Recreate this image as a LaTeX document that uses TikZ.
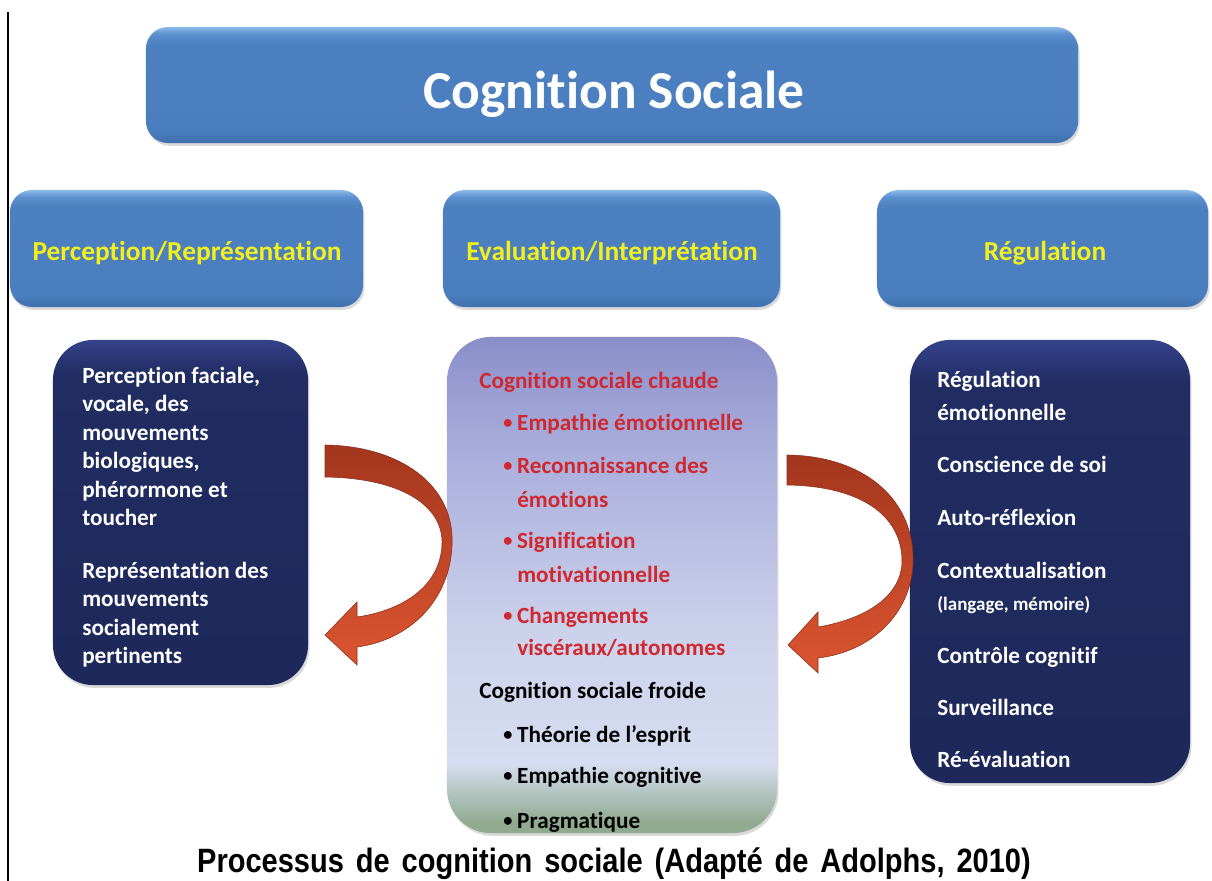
\documentclass[tikz,border=0pt]{standalone}
\usepackage{fontspec}
\setmainfont[Ligatures=NoCommon]{Carlito}
\newfontfamily\capfont[FakeStretch=0.86]{Liberation Sans}
\usepackage{tikz}
\usetikzlibrary{shadows}

\definecolor{headyellow}{HTML}{F2EF1D}
\definecolor{hotred}{HTML}{D0282E}
\definecolor{arrowdark}{HTML}{A3361E}
\definecolor{arrowlight}{HTML}{DC5530}

\pgfdeclareverticalshading{blueshade}{100bp}{color(0bp)=(rgb,255:red,63;green,111;blue,174); color(25bp)=(rgb,255:red,63;green,111;blue,174); color(30bp)=(rgb,255:red,74;green,126;blue,190); color(68bp)=(rgb,255:red,76;green,128;blue,192); color(72bp)=(rgb,255:red,92;green,144;blue,206); color(75bp)=(rgb,255:red,140;green,187;blue,232); color(100bp)=(rgb,255:red,140;green,187;blue,232)}
\pgfdeclareverticalshading{navyshade}{100bp}{color(0bp)=(rgb,255:red,30;green,40;blue,90); color(25bp)=(rgb,255:red,30;green,40;blue,90); color(70bp)=(rgb,255:red,33;green,44;blue,98); color(75bp)=(rgb,255:red,52;green,67;blue,138); color(100bp)=(rgb,255:red,52;green,67;blue,138)}
\pgfdeclareverticalshading{lavshade}{100bp}{color(0bp)=(rgb,255:red,143;green,170;blue,142); color(26bp)=(rgb,255:red,143;green,170;blue,142); color(32bp)=(rgb,255:red,214;green,221;blue,240); color(45bp)=(rgb,255:red,204;green,210;blue,235); color(64bp)=(rgb,255:red,168;green,172;blue,219); color(75bp)=(rgb,255:red,138;green,142;blue,201); color(100bp)=(rgb,255:red,138;green,142;blue,201)}

\newcommand{\bul}{\makebox[9.9pt][l]{\raisebox{1.2pt}{\fontsize{13}{13}\selectfont•}}}

\tikzstyle{boxshadow} = [drop shadow={opacity=0.3, shadow xshift=1pt, shadow yshift=-2pt}]
\tikzstyle{titlebox} = [rectangle, rounded corners=0.55cm, shading=blueshade, boxshadow, inner sep=0, outer sep=0]
\tikzstyle{headbox} = [titlebox, minimum height=2.925cm]
\tikzstyle{darkbox} = [rectangle, rounded corners=1cm, shading=navyshade, boxshadow, inner sep=0, outer sep=0]
\tikzstyle{midbox} = [rectangle, rounded corners=1.1cm, shading=lavshade, boxshadow, inner sep=0, outer sep=0]
\tikzstyle{headtext} = [font=\fontsize{19.5}{23}\selectfont\bfseries, text=headyellow, anchor=base, inner sep=0]
\tikzstyle{bodytext} = [font=\fontsize{16.5}{20}\selectfont\bfseries, anchor=base west, inner sep=0]
\tikzstyle{whitetext} = [bodytext, text=white]
\tikzstyle{redtext} = [bodytext, text=hotred]
\tikzstyle{curvearrow} = [top color=arrowdark, bottom color=arrowlight, draw=arrowdark!85!black, line width=0.4pt]

\begin{document}
\begin{tikzpicture}[x=0.025cm, y=-0.025cm]
	\useasboundingbox (0,0) rectangle (1212,881);
	\draw [line width=1pt] (8,12) -- (8,881);

	% title and headers
	\node [titlebox, minimum width=23.3cm, minimum height=2.9cm] (title) at (612,85) {};
	\node [font=\fontsize{38}{44}\selectfont\bfseries, text=white, anchor=base, inner sep=0] (titletext) at (614,108) {Cognition Sociale};
	\node [headbox, minimum width=8.825cm] (perc) at (186.5,248.5) {};
	\node [headbox, minimum width=8.425cm] (eval) at (611.5,248.5) {};
	\node [headbox, minimum width=8.275cm] (regu) at (1042.5,248.5) {};
	\node [headtext] (perctext) at (187,260) {Perception/Représentation};
	\node [headtext] (evaltext) at (612,260) {Evaluation/Interprétation};
	\node [headtext] (regutext) at (1045,260) {Régulation};

	% lower boxes
	\node [darkbox, minimum width=6.375cm, minimum height=8.625cm] (left) at (180.5,512.5) {};
	\node [midbox, minimum width=8.25cm, minimum height=12.4cm] (mid) at (612,585) {};
	\node [darkbox, minimum width=7cm, minimum height=11.075cm] (right) at (1050,561.5) {};

	% left box text
	\node [whitetext] (l1) at (82,383) {Perception faciale,};
	\node [whitetext] (l2) at (82,411.5) {vocale, des};
	\node [whitetext] (l3) at (82,440) {mouvements};
	\node [whitetext] (l4) at (82,468.5) {biologiques,};
	\node [whitetext] (l5) at (82,497) {phérormone et};
	\node [whitetext] (l6) at (82,525.5) {toucher};
	\node [whitetext] (l7) at (82,578) {Représentation des};
	\node [whitetext] (l8) at (82,606.5) {mouvements};
	\node [whitetext] (l9) at (82,635) {socialement};
	\node [whitetext] (l10) at (82,663.5) {pertinents};

	% middle box text
	\node [redtext] (hot) at (479,388) {Cognition sociale chaude};
	\node [redtext] (m1) at (503,430) {\bul Empathie émotionnelle};
	\node [redtext] (m2) at (503,473) {\bul Reconnaissance des};
	\node [redtext] (m2b) at (517,507) {émotions};
	\node [redtext] (m3) at (503,548) {\bul Signification};
	\node [redtext] (m3b) at (517,582) {motivationnelle};
	\node [redtext] (m4) at (503,623) {\bul Changements};
	\node [redtext] (m4b) at (517,655) {viscéraux/autonomes};
	\node [bodytext] (cold) at (479,698) {Cognition sociale froide};
	\node [bodytext] (c1) at (503,742) {\bul Théorie de l’esprit};
	\node [bodytext] (c2) at (503,783) {\bul Empathie cognitive};
	\node [bodytext] (c3) at (503,828) {\bul Pragmatique};

	% right box text
	\node [whitetext] (r1) at (937,387) {Régulation};
	\node [whitetext] (r1b) at (937,420) {émotionnelle};
	\node [whitetext] (r2) at (937,472) {Conscience de soi};
	\node [whitetext] (r3) at (937,525) {Auto-réflexion};
	\node [whitetext] (r4) at (937,578) {Contextualisation};
	\node [whitetext, font=\fontsize{13.5}{16}\selectfont\bfseries] (r4b) at (937,610) {(langage, mémoire)};
	\node [whitetext] (r5) at (937,663) {Contrôle cognitif};
	\node [whitetext] (r6) at (937,715) {Surveillance};
	\node [whitetext] (r7) at (937,767) {Ré-évaluation};

	% curved arrows
	\draw [curvearrow] (325,445) .. controls (400,446) and (455,485) .. (452,545)
		.. controls (450,600) and (410,640) .. (357,647) -- (357,665) -- (325,635) -- (357,602) -- (357,617)
		.. controls (405,610) and (440,585) .. (442,545) .. controls (444,505) and (400,478) .. (325,477) -- cycle;
	\draw [curvearrow] (787,455) .. controls (865,456) and (915,500) .. (913,563)
		.. controls (911,615) and (870,652) .. (818,658) -- (818,673) -- (788,645) -- (818,612) -- (818,627)
		.. controls (860,620) and (900,600) .. (902,563) .. controls (903,515) and (860,486) .. (787,485) -- cycle;

	% caption
	\node [font=\capfont\fontsize{24}{28}\selectfont\bfseries, anchor=base, inner sep=0] (caption) at (614,872) {\spaceskip=8.5pt\relax Processus de cognition sociale (Adapté de Adolphs, 2010)};
\end{tikzpicture}
\end{document}
